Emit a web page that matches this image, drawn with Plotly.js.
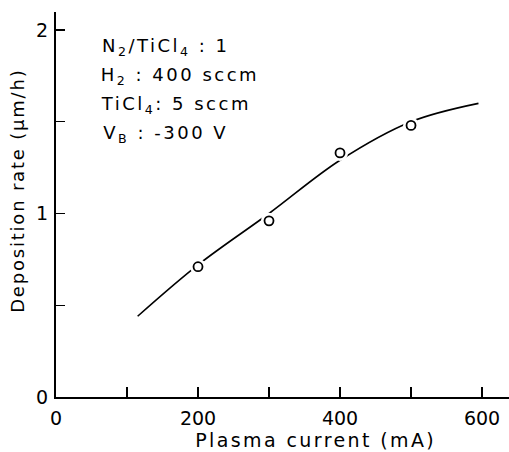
<!DOCTYPE html>
<html>
<head>
<meta charset="utf-8">
<script src="https://cdn.plot.ly/plotly-3.0.1.min.js"></script>
<style>
html,body{margin:0;padding:0;background:#fff;}
#chart{width:509px;height:452px;}
</style>
</head>
<body>
<div id="chart"></div>
<script>
// Measured points
const currentPts = [200, 300, 400, 500];
const ratePts = [0.71, 0.96, 1.33, 1.48];
// Fitted curve as drawn
const curveX = [115, 200, 300, 400, 500, 595];
const curveY = [0.44, 0.72, 1.00, 1.29, 1.50, 1.60];
// Ticks
const xTickVals = [0, 100, 200, 300, 400, 500, 600];
const xTickText = ["0", "", "200", "", "400", "", "600"];
const yTickVals = [0, 0.5, 1, 1.5, 2];
const yTickText = ["0", "", "1", "", "2"];
// Titles
const xTitle = "Plasma current (mA)";
const yTitle = "Deposition rate (μm/h)";
// Condition labels
const condLines = [
  "N<sub>2</sub>/TiCl<sub>4</sub> : 1",
  "H<sub>2</sub> : 400 sccm",
  "TiCl<sub>4</sub>: 5 sccm",
  "V<sub>B</sub> : -300 V"
];
const condY = [1.907, 1.749, 1.591, 1.433];

const font = "DejaVu Sans, sans-serif";

const traces = [
  {x: curveX, y: curveY, mode: "lines", line: {shape: "spline", color: "#000", width: 1.6}, hoverinfo: "skip"},
  {x: currentPts, y: ratePts, mode: "markers", marker: {symbol: "circle", size: 16, color: "#fff", line: {width: 0}}, hoverinfo: "skip"},
  {x: currentPts, y: ratePts, mode: "markers", marker: {symbol: "circle-open", size: 9, color: "#000", line: {width: 1.8, color: "#000"}}}
];

const annotations = condLines.map((t, i) => ({
  x: 83, y: condY[i], xref: "x", yref: "y", text: t, showarrow: false,
  xanchor: "left", yanchor: "middle", font: {family: font, size: 18, color: "#000"}
}));
annotations.push({
  x: 0.572, y: -0.112, xref: "paper", yref: "paper", text: xTitle, showarrow: false,
  xanchor: "center", yanchor: "middle", font: {family: font, size: 19, color: "#000"}
});
annotations.push({
  x: -0.086, y: 0.535, xref: "paper", yref: "paper", text: yTitle, showarrow: false,
  textangle: -90, xanchor: "center", yanchor: "middle", font: {family: font, size: 18, color: "#000"}
});
const spacing = ["2.5px", "2.5px", "2.5px", "2.5px", "2.4px", "1.8px"];

const layout = {
  width: 509, height: 452,
  margin: {l: 56, r: 0, t: 12, b: 55},
  paper_bgcolor: "#fff", plot_bgcolor: "#fff",
  showlegend: false,
  font: {family: font, size: 18, color: "#000"},
  xaxis: {
    range: [0, 638], showgrid: false, zeroline: false,
    showline: true, linecolor: "#000", linewidth: 2,
    ticks: "inside", ticklen: 10, tickwidth: 1.5, tickcolor: "#000",
    tickvals: xTickVals, ticktext: xTickText, ticklabelstandoff: 3,
    tickfont: {family: font, size: 19}
  },
  yaxis: {
    range: [0, 2.098], showgrid: false, zeroline: false,
    showline: true, linecolor: "#000", linewidth: 2,
    ticks: "inside", ticklen: 9, tickwidth: 1.5, tickcolor: "#000",
    tickvals: yTickVals, ticktext: yTickText, ticklabelstandoff: 2,
    tickfont: {family: font, size: 19}
  },
  annotations: annotations
};

Plotly.newPlot("chart", traces, layout, {displayModeBar: false, staticPlot: true}).then(() => {
  const txts = document.querySelectorAll("#chart .annotation-text");
  txts.forEach((el, i) => { if (spacing[i]) el.style.letterSpacing = spacing[i]; });
});
</script>
</body>
</html>
